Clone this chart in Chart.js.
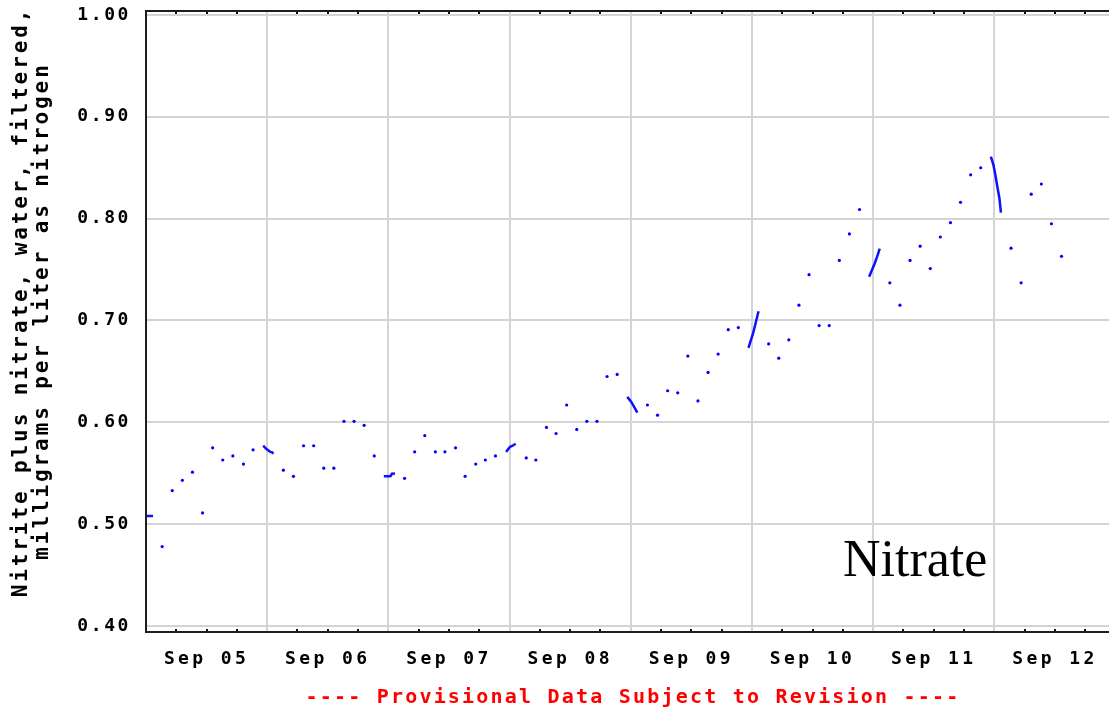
<!DOCTYPE html>
<html>
<head>
<meta charset="utf-8">
<script src="https://cdn.jsdelivr.net/npm/chart.js@4.4.1/dist/chart.umd.min.js"></script>
<style>
  html, body { margin: 0; padding: 0; background: #ffffff; }
  #wrap { position: relative; width: 1113px; height: 710px; }
  canvas { display: block; }
</style>
</head>
<body>
<div id="wrap"><canvas id="c" width="1113" height="710"></canvas></div>
<script>
// ---- Data (hours since Sep 05 00:00) ----
const dayLabels = ['Sep 05', 'Sep 06', 'Sep 07', 'Sep 08', 'Sep 09', 'Sep 10', 'Sep 11', 'Sep 12'];
const yTickValues = [0.40, 0.50, 0.60, 0.70, 0.80, 0.90, 1.00];

const sampleHours = [
  3.2, 5.2, 7.2, 9.2, 11.2, 13.2, 15.2, 17.2, 19.3, 21.2,
  27.2, 29.2, 31.2, 33.2, 35.2, 37.2, 39.2, 41.2, 43.2, 45.2,
  51.2, 53.2, 55.2, 57.3, 59.2, 61.3, 63.2, 65.3, 67.2, 69.2,
  75.3, 77.2, 79.3, 81.2, 83.3, 85.3, 87.3, 89.3, 91.3, 93.3,
  99.3, 101.3, 103.3, 105.3, 107.3, 109.3, 111.3, 113.3, 115.3, 117.3,
  123.3, 125.3, 127.3, 129.3, 131.3, 133.3, 135.3, 137.3, 139.3, 141.3,
  147.3, 149.3, 151.3, 153.3, 155.3, 157.3, 159.3, 161.3, 163.3, 165.3,
  171.3, 173.3, 175.3, 177.3, 179.3, 181.3
];
const sampleValues = [
  0.478, 0.533, 0.543, 0.551, 0.511, 0.575, 0.563, 0.567, 0.559, 0.573,
  0.553, 0.547, 0.577, 0.577, 0.555, 0.555, 0.601, 0.601, 0.597, 0.567,
  0.545, 0.571, 0.587, 0.571, 0.571, 0.575, 0.547, 0.559, 0.563, 0.567,
  0.565, 0.563, 0.595, 0.589, 0.617, 0.593, 0.601, 0.601, 0.645, 0.647,
  0.617, 0.607, 0.631, 0.629, 0.665, 0.621, 0.649, 0.667, 0.691, 0.693,
  0.677, 0.663, 0.681, 0.715, 0.745, 0.695, 0.695, 0.759, 0.785, 0.809,
  0.737, 0.715, 0.759, 0.773, 0.751, 0.782, 0.796, 0.816, 0.843, 0.850,
  0.771, 0.737, 0.824, 0.834, 0.795, 0.763
];

// dense (high-frequency) runs around midnight; null separates runs
const burstHours = [
  0.0, 1.4, null,
  23.2, 23.8, 24.6, 25.0, 25.2, null,
  47.1, 48.4, 48.7, 49.3, null,
  71.3, 72.1, 72.6, 73.2, null,
  95.3, 96.1, 96.8, 97.3, null,
  119.3, 119.8, 120.2, 120.8, 121.3, null,
  143.2, 143.8, 144.3, 144.8, 145.3, null,
  167.3, 167.8, 168.2, 168.6, 169.0, 169.3
];
const burstValues = [
  0.508, 0.508, null,
  0.577, 0.574, 0.571, 0.5705, 0.569, null,
  0.547, 0.547, 0.5495, 0.5497, null,
  0.571, 0.576, 0.577, 0.579, null,
  0.625, 0.620, 0.614, 0.6095, null,
  0.673, 0.681, 0.687, 0.699, 0.709, null,
  0.743, 0.750, 0.756, 0.763, 0.7705, null,
  0.861, 0.853, 0.843, 0.831, 0.820, 0.806
];

const yTitleLines = ['Nitrite plus nitrate, water, filtered,', 'milligrams per liter as nitrogen'];
const noteText = '---- Provisional Data Subject to Revision ----';
const stampText = 'Nitrate';

// ---- helpers ----
const MONO = '"DejaVu Sans Mono", "Liberation Mono", monospace';
const origDrawLabels = Chart.LinearScale.prototype.drawLabels;
Chart.LinearScale.prototype.drawLabels = function (area) {
  this.ctx.save();
  this.ctx.letterSpacing = this.axis === 'x' ? '3.4px' : '2.6px';
  origDrawLabels.call(this, area);
  this.ctx.restore();
};

const samplePts = sampleHours.map((h, i) => ({ x: h, y: sampleValues[i] }));
const burstPts = burstHours.map((h, i) => ({ x: h === null ? NaN : h, y: burstValues[i] }));

const decor = {
  id: 'decor',
  afterDraw(chart) {
    const { ctx, chartArea: a, scales: { x } } = chart;
    ctx.save();
    // frame
    ctx.strokeStyle = '#1e1e1e';
    ctx.lineWidth = 2;
    ctx.beginPath();
    ctx.moveTo(a.right, a.top); ctx.lineTo(a.left, a.top);
    ctx.lineTo(a.left, a.bottom); ctx.lineTo(a.right, a.bottom);
    ctx.stroke();
    // minor ticks every 6 hours
    ctx.fillStyle = '#111';
    x.ticks.forEach(t => {
      if (t.value % 24 === 0) return;
      const px = Math.round(x.getPixelForValue(t.value));
      ctx.fillRect(px - 1, a.bottom - 3, 2, 2);
      ctx.fillRect(px - 1, a.top + 1, 2, 2);
    });
    // y title
    ctx.fillStyle = '#000';
    ctx.font = 'bold 21px ' + MONO;
    ctx.letterSpacing = '2.9px';
    ctx.textAlign = 'center';
    ctx.textBaseline = 'middle';
    [[22, 302], [43, 311]].forEach(([tx, ty], i) => {
      ctx.save();
      ctx.translate(tx, ty);
      ctx.rotate(-Math.PI / 2);
      ctx.fillText(yTitleLines[i], 0, 0);
      ctx.restore();
    });
    // provisional note
    ctx.fillStyle = '#ff0000';
    ctx.font = 'bold 20px ' + MONO;
    ctx.letterSpacing = '2.2px';
    ctx.fillText(noteText, 633, 698);
    // stamp
    ctx.letterSpacing = '0px';
    ctx.fillStyle = '#000';
    ctx.font = '52px "Liberation Serif", "Times New Roman", serif';
    ctx.textAlign = 'left';
    ctx.textBaseline = 'alphabetic';
    ctx.fillText(stampText, 843, 576);
    ctx.restore();
  }
};

new Chart(document.getElementById('c'), {
  type: 'scatter',
  data: {
    datasets: [
      {
        label: 'runs',
        data: burstPts,
        showLine: true,
        spanGaps: false,
        borderColor: '#1010ff',
        borderWidth: 2.5,
        pointRadius: 0,
        tension: 0
      },
      {
        label: 'samples',
        data: samplePts,
        showLine: false,
        pointRadius: 1.6,
        pointBorderWidth: 0,
        backgroundColor: '#0000ff',
        borderColor: '#0000ff'
      }
    ]
  },
  options: {
    responsive: false,
    animation: false,
    devicePixelRatio: 1,
    layout: { padding: { top: 11, right: 0, left: 0, bottom: 0 } },
    plugins: { legend: { display: false }, tooltip: { enabled: false } },
    scales: {
      x: {
        type: 'linear',
        min: 0,
        max: 190.7,
        afterBuildTicks: s => {
          const t = [];
          for (let h = 0; h <= 186; h += 6) t.push({ value: h });
          s.ticks = t;
        },
        afterFit: s => { s.height = 78; s.paddingLeft = 0; s.paddingRight = 0; },
        border: { display: false },
        grid: {
          color: c => (c.tick && c.tick.value % 24 === 0) ? '#d4d4d4' : 'rgba(0,0,0,0)',
          lineWidth: 2,
          drawTicks: false
        },
        ticks: {
          autoSkip: false,
          maxRotation: 0,
          minRotation: 0,
          padding: 17,
          color: '#000',
          font: { family: MONO, weight: 'bold', size: 18 },
          callback: v => (v % 24 === 12) ? dayLabels[(v - 12) / 24] : ''
        }
      },
      y: {
        type: 'linear',
        min: 0.3941,
        max: 1.0039,
        afterBuildTicks: s => { s.ticks = yTickValues.map(v => ({ value: v })); },
        afterFit: s => { s.width = 146; s.paddingTop = 0; s.paddingBottom = 0; },
        border: { display: false },
        grid: { color: '#d4d4d4', lineWidth: 2, drawTicks: false },
        ticks: {
          padding: 15,
          color: '#000',
          font: { family: MONO, weight: 'bold', size: 18 },
          callback: v => Number(v).toFixed(2)
        }
      }
    }
  },
  plugins: [decor]
});
</script>
</body>
</html>
